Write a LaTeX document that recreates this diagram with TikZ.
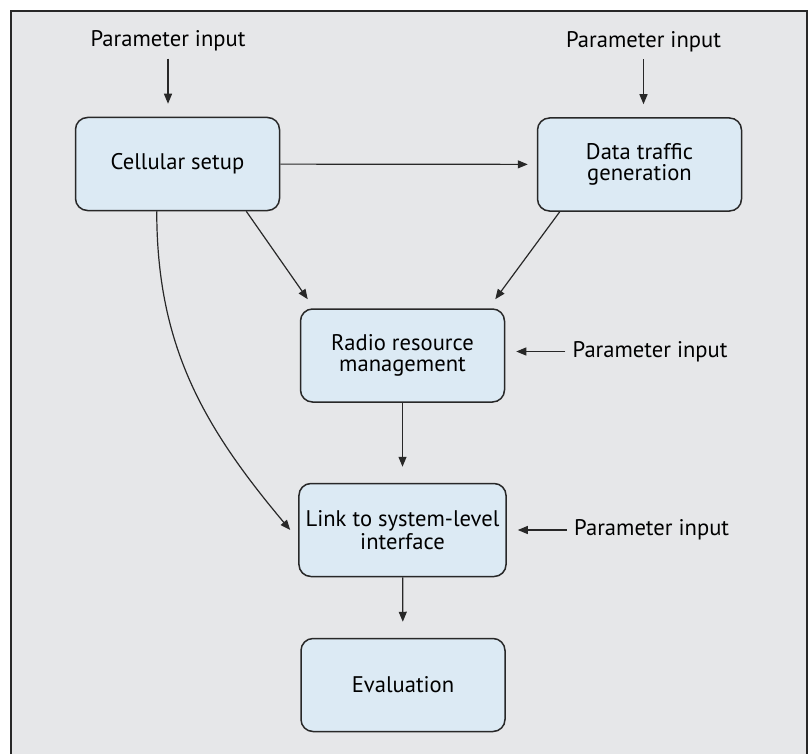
\documentclass[tikz,border=0pt]{standalone}
\usepackage{fontspec}
\setmainfont{PT Sans}
\usetikzlibrary{arrows.meta,positioning}
\definecolor{panelgray}{RGB}{230,231,233}
\definecolor{boxblue}{RGB}{220,234,244}
\definecolor{inkgray}{RGB}{40,40,40}

\begin{document}
\begin{tikzpicture}[x=0.5pt,y=-0.5pt,
  blk/.style={draw=inkgray,line width=.75pt,fill=boxblue,rounded corners=6pt,minimum width=102pt,minimum height=46.5pt,align=center,font=\fontsize{11.3}{10.3}\selectfont},
  prm/.style={inner sep=0pt,font=\fontsize{11.3}{10.3}\selectfont},
  arr/.style={-{Triangle[length=5pt,width=4pt]},line width=.6pt,draw=inkgray}]
\useasboundingbox (0,0) rectangle (812,754);
% grey panel, open at the bottom
\fill[panelgray] (11,11) rectangle (807,754);
\draw[inkgray,line width=1pt] (11,754) -- (11,11) -- (807,11) -- (807,754);

\node[blk] (cell) at (177.5,164) {Cellular setup};
\node[blk] (traffic) at (639.5,164.5) {Data traffic\\generation};
\node[blk] (rrm) at (402.5,355.5) {Radio resource\\management};
\node[blk] (l2s) at (402.5,530) {Link to system-level\\interface};
\node[blk] (eval) at (403,685) {Evaluation};

\node[prm,above=32.5pt of cell,xshift=-4.75pt] (incell) {Parameter input};
\node[prm,above=32.5pt of traffic,xshift=2pt] (intraffic) {Parameter input};
\node[prm,right=33.5pt of rrm,yshift=2pt] (inrrm) {Parameter input};
\node[prm,right=33.5pt of l2s] (inl2s) {Parameter input};

\draw[arr,shorten <=3.5pt,shorten >=6.5pt] (incell) -- (incell |- cell.north);
\draw[arr,shorten <=3.5pt,shorten >=6.5pt] (intraffic) -- (intraffic |- traffic.north);
\draw[arr,shorten <=3.5pt,shorten >=5.5pt] (inrrm) -- (inrrm -| rrm.east);
\draw[arr,shorten <=3.5pt,shorten >=5.5pt] (inl2s) -- (inl2s -| l2s.east);
\draw[arr,shorten >=4.5pt] (cell) -- (traffic);
\draw[arr] ([xshift=-17pt]cell.south east) -- ([xshift=4pt,yshift=4.5pt]rrm.north west);
\draw[arr] ([xshift=11.5pt]traffic.south west) -- ([xshift=-5pt,yshift=4.5pt]rrm.north east);
\draw[arr,shorten >=8pt] (rrm) -- (l2s);
\draw[arr,shorten >=8pt] (l2s) -- (eval);
% long bend from the cell layout straight into the link-to-system stage
\draw[arr] ([xshift=41pt]cell.south west) to[out=-90,in=130] ([xshift=-4pt]l2s.west);
\end{tikzpicture}
\end{document}
